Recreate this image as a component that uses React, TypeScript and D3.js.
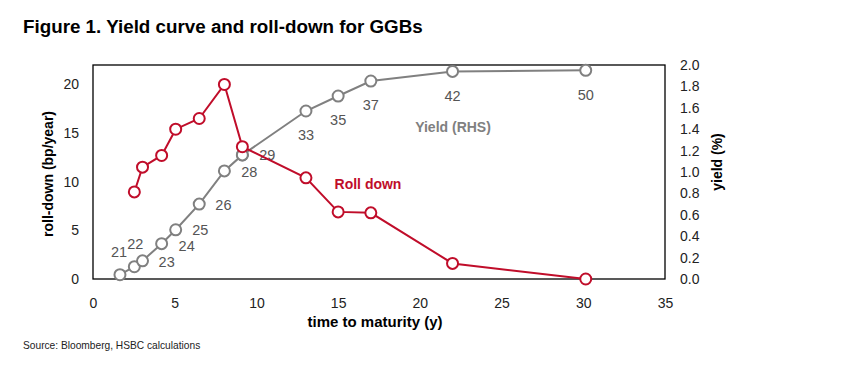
import { useEffect, useRef } from "react";
import * as d3 from "d3";

// time to maturity (years) of each GGB on the yield curve
const yieldMaturity = [1.65, 2.53, 3.03, 4.2, 5.06, 6.5, 8.04, 9.14, 9.14, 13.03, 15.0, 17.0, 22.0, 30.15];
const yieldValues = [0.04, 0.115, 0.17, 0.33, 0.46, 0.7, 1.01, 1.16, 1.16, 1.57, 1.71, 1.85, 1.94, 1.95];
const bondLabels = ["21", "22", "", "23", "24", "25", "26", "28", "29", "33", "35", "37", "42", "50"];
// label placement relative to its point (dx, dy)
const labelOffsets: [number, number][] = [
    [-1, -23], [1, -23], [0, 0], [5, 18], [11, 16], [1, 26], [-1, 34],
    [7, 17], [25, 0], [0, 24], [0, 24], [0, 24], [0, 25], [0, 25],
];

const rollMaturity = [2.53, 3.03, 4.2, 5.06, 6.5, 8.04, 9.14, 13.03, 15.0, 17.0, 22.0, 30.15];
const rollValues = [8.95, 11.5, 12.7, 15.4, 16.5, 20.0, 13.6, 10.4, 6.9, 6.8, 1.6, 0.0];

const xTicks = [0, 5, 10, 15, 20, 25, 30, 35];
const leftTicks = [0, 5, 10, 15, 20];
const rightTicks = [0, 0.2, 0.4, 0.6, 0.8, 1.0, 1.2, 1.4, 1.6, 1.8, 2.0];

const GRAY = "#808080";
const RED = "#c00d2a";
const NARROW = "'Liberation Sans Narrow', 'Arial Narrow', 'Liberation Sans', Arial, sans-serif";
const SANS = "'Liberation Sans', Arial, sans-serif";

const App = () => {
    const svgRef = useRef<SVGSVGElement>(null);

    useEffect(() => {
        const svg = d3.select(svgRef.current);
        svg.selectAll("*").remove();

        const plot = { left: 93, right: 665, top: 65, bottom: 279 };

        const x = d3.scaleLinear().domain([0, 35]).range([plot.left, plot.right]);
        const yL = d3.scaleLinear().domain([0, 22]).range([plot.bottom, plot.top]);
        const yR = d3.scaleLinear().domain([0, 2]).range([plot.bottom, plot.top]);

        svg
            .append("text")
            .attr("x", 23)
            .attr("y", 33)
            .style("font-family", SANS)
            .style("font-size", "18.8px")
            .style("font-weight", "bold")
            .text("Figure 1. Yield curve and roll-down for GGBs");

        // frame
        svg
            .append("rect")
            .attr("x", plot.left)
            .attr("y", plot.top)
            .attr("width", plot.right - plot.left)
            .attr("height", plot.bottom - plot.top)
            .attr("fill", "none")
            .attr("stroke", "#000")
            .attr("stroke-width", 1.3);

        svg
            .append("g")
            .attr("transform", `translate(0,${plot.bottom})`)
            .call(d3.axisBottom(x).tickValues(xTicks).tickSize(0).tickPadding(19))
            .call((g) => g.select(".domain").remove())
            .selectAll("text")
            .style("font-family", NARROW)
            .style("font-size", "14px")
            .attr("fill", "#222");

        svg
            .append("g")
            .attr("transform", `translate(${plot.left},0)`)
            .call(d3.axisLeft(yL).tickValues(leftTicks).tickSize(0).tickPadding(14))
            .call((g) => g.select(".domain").remove())
            .selectAll("text")
            .style("font-family", NARROW)
            .style("font-size", "14px")
            .attr("fill", "#222");

        svg
            .append("g")
            .attr("transform", `translate(${plot.right},0)`)
            .call(
                d3.axisRight(yR).tickValues(rightTicks).tickSize(0).tickPadding(15).tickFormat(d3.format(".1f"))
            )
            .call((g) => g.select(".domain").remove())
            .selectAll("text")
            .style("font-family", NARROW)
            .style("font-size", "14px")
            .attr("fill", "#222");

        // axis titles
        svg
            .append("text")
            .attr("transform", "translate(53,174) rotate(-90)")
            .style("text-anchor", "middle")
            .style("font-family", NARROW)
            .style("font-size", "14px")
            .style("font-weight", "bold")
            .text("roll-down (bp/year)");

        svg
            .append("text")
            .attr("transform", "translate(722,162) rotate(-90)")
            .style("text-anchor", "middle")
            .style("font-family", NARROW)
            .style("font-size", "14px")
            .style("font-weight", "bold")
            .text("yield (%)");

        svg
            .append("text")
            .attr("x", 375)
            .attr("y", 327)
            .style("text-anchor", "middle")
            .style("font-family", NARROW)
            .style("font-size", "15px")
            .style("font-weight", "bold")
            .text("time to maturity (y)");

        svg
            .append("text")
            .attr("x", 23)
            .attr("y", 349)
            .style("font-family", NARROW)
            .style("font-size", "10.2px")
            .attr("fill", "#222")
            .text("Source: Bloomberg, HSBC calculations");

        // yield curve
        const yieldPts = yieldMaturity.map((m, i) => ({ m, v: yieldValues[i], label: bondLabels[i], off: labelOffsets[i] }));

        svg
            .append("path")
            .datum(yieldPts)
            .attr("fill", "none")
            .attr("stroke", GRAY)
            .attr("stroke-width", 2)
            .attr("d", d3.line<any>().x((d) => x(d.m)).y((d) => yR(d.v)));

        svg
            .selectAll(".ypt")
            .data(yieldPts)
            .enter()
            .append("circle")
            .attr("class", "ypt")
            .attr("cx", (d) => x(d.m))
            .attr("cy", (d) => yR(d.v))
            .attr("r", 5.5)
            .attr("fill", "#fff")
            .attr("stroke", GRAY)
            .attr("stroke-width", 2);

        svg
            .selectAll(".ylab")
            .data(yieldPts.filter((d) => d.label))
            .enter()
            .append("text")
            .attr("class", "ylab")
            .attr("x", (d) => x(d.m) + d.off[0])
            .attr("y", (d) => yR(d.v) + d.off[1])
            .attr("dy", "0.35em")
            .style("text-anchor", "middle")
            .style("font-family", NARROW)
            .style("font-size", "14.5px")
            .attr("fill", "#555")
            .text((d) => d.label);

        // roll-down
        const rollPts = rollMaturity.map((m, i) => ({ m, v: rollValues[i] }));

        svg
            .append("path")
            .datum(rollPts)
            .attr("fill", "none")
            .attr("stroke", RED)
            .attr("stroke-width", 2)
            .attr("d", d3.line<any>().x((d) => x(d.m)).y((d) => yL(d.v)));

        svg
            .selectAll(".rpt")
            .data(rollPts)
            .enter()
            .append("circle")
            .attr("class", "rpt")
            .attr("cx", (d) => x(d.m))
            .attr("cy", (d) => yL(d.v))
            .attr("r", 5.5)
            .attr("fill", "#fff")
            .attr("stroke", RED)
            .attr("stroke-width", 2);

        // series labels
        svg
            .append("text")
            .attr("x", 453)
            .attr("y", 127)
            .attr("dy", "0.35em")
            .style("text-anchor", "middle")
            .style("font-family", NARROW)
            .style("font-size", "14px")
            .style("font-weight", "bold")
            .attr("fill", GRAY)
            .text("Yield (RHS)");

        svg
            .append("text")
            .attr("x", 368)
            .attr("y", 184)
            .attr("dy", "0.35em")
            .style("text-anchor", "middle")
            .style("font-family", NARROW)
            .style("font-size", "14px")
            .style("font-weight", "bold")
            .attr("fill", RED)
            .text("Roll down");
    }, []);

    return (
        <div style={{ position: "absolute", left: 0, top: 0 }}>
            <svg ref={svgRef} width={852} height={368} style={{ display: "block", background: "#fff" }} />
        </div>
    );
};

export default App;
